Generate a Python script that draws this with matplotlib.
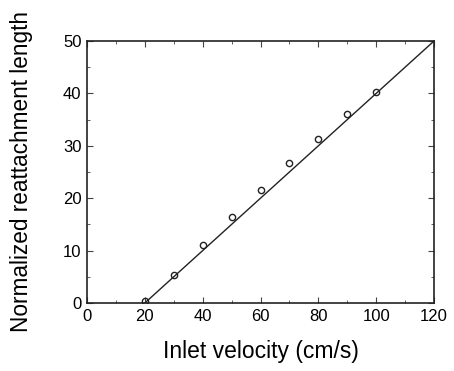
import numpy as np
import matplotlib.pyplot as plt

# measured points
velocity = [20, 30, 40, 50, 60, 70, 80, 90, 100]
length = [0.3, 5.3, 11.0, 16.5, 21.5, 26.7, 31.3, 36.0, 40.3]

# fitted line
fit_x = [20, 120]
fit_y = [0, 50]

plt.rcParams['font.family'] = ['Liberation Sans', 'DejaVu Sans']

fig = plt.figure(figsize=(4.54, 3.71), dpi=100)
ax = fig.add_axes([0.1916, 0.1833, 0.7644, 0.7062])

ax.plot(fit_x, fit_y, '-', color='#222222', lw=1.0)
ax.plot(velocity, length, 'o', mfc='none', mec='#222222', ms=4.5, mew=1.0)

ax.set_xlim(0, 120)
ax.set_ylim(0, 50)
ax.set_xticks(np.arange(0, 121, 20))
ax.set_xticks(np.arange(0, 121, 10), minor=True)
ax.set_yticks(np.arange(0, 51, 10))
ax.set_yticks(np.arange(0, 51, 5), minor=True)
ax.tick_params(which='both', direction='in', top=True, right=True, labelsize=12, color='#444444')
ax.tick_params(which='major', length=4, pad=4)
ax.tick_params(which='minor', length=2.5)
for s in ax.spines.values():
    s.set_linewidth(1.2)
    s.set_color('#222222')

ax.set_xlabel('Inlet velocity (cm/s)', fontsize=16.5, labelpad=12)
ax.set_ylabel('Normalized reattachment length', fontsize=16.3)
ax.yaxis.set_label_coords(-0.155, 0.5)

fig.savefig('out.png', dpi=100)
